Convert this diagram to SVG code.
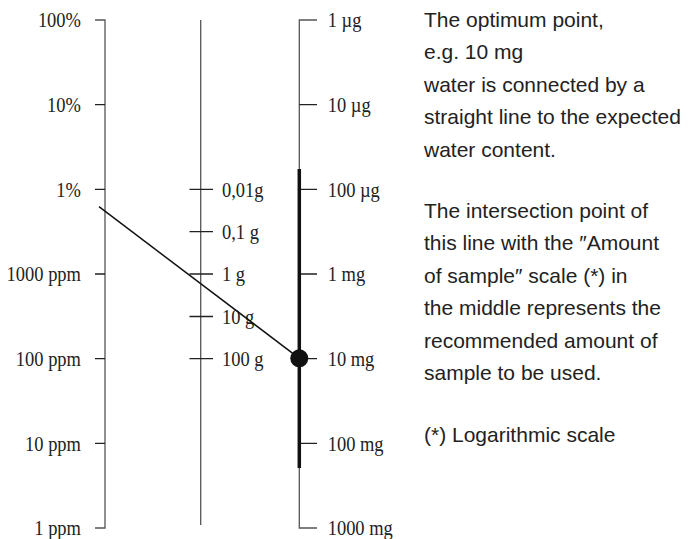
<svg xmlns="http://www.w3.org/2000/svg" width="689" height="539" viewBox="0 0 689 539">
<style>
.ax{fill:none;stroke:#555;stroke-width:1.3}
.tk{stroke:#222;stroke-width:1.3}
.sl{font-family:"Liberation Serif","Times New Roman",serif;font-size:22px;fill:#222}
.sl-end{text-anchor:end}
.tx{font-family:"Liberation Sans",Arial,sans-serif;font-size:21px;fill:#222}
</style>
<rect width="689" height="539" fill="#fff"/>
<g id="scale-water">
<path class="ax" d="M95,20 H105 V528 H95"/>
<path class="tk" d="M95,104.7 H105 M95,189.3 H105 M95,274 H105 M95,358.7 H105 M95,443.3 H105"/>
<g class="sl sl-end" transform="scale(0.84 1)">
<text x="96.4" y="27.5">100%</text>
<text x="96.4" y="112.2">10%</text>
<text x="96.4" y="196.8">1%</text>
<text x="96.4" y="281.5">1000 ppm</text>
<text x="96.4" y="366.2">100 ppm</text>
<text x="96.4" y="450.8">10 ppm</text>
<text x="96.4" y="535.5">1 ppm</text>
</g>
</g>
<g id="scale-sample">
<line class="ax" x1="200.7" y1="20" x2="200.7" y2="525"/>
<path class="tk" d="M189.5,189.3 H213 M189.5,231.7 H213 M189.5,274 H213 M189.5,316.5 H213 M189.5,358.7 H213"/>
<g class="sl" transform="scale(0.84 1)">
<text x="264.3" y="196.8">0,01g</text>
<text x="264.3" y="239.2">0,1 g</text>
<text x="264.3" y="281.5">1 g</text>
<text x="264.3" y="324">10 g</text>
<text x="264.3" y="366.2">100 g</text>
</g>
</g>
<g id="scale-titrant">
<path class="ax" d="M317,20 H299.3 V528 H317"/>
<path class="tk" d="M299.3,104.7 H317 M299.3,189.3 H317 M299.3,274 H317 M299.3,358.7 H317 M299.3,443.3 H317"/>
<line x1="299.3" y1="169" x2="299.3" y2="468" stroke="#111" stroke-width="3.5"/>
<g class="sl" transform="scale(0.84 1)">
<text x="390.1" y="27.5">1 µg</text>
<text x="390.1" y="112.2">10 µg</text>
<text x="390.1" y="196.8">100 µg</text>
<text x="390.1" y="281.5">1 mg</text>
<text x="390.1" y="366.2">10 mg</text>
<text x="390.1" y="450.8">100 mg</text>
<text x="390.1" y="535.5">1000 mg</text>
</g>
</g>
<g id="connectors">
<line x1="99" y1="206.7" x2="299.3" y2="358.3" stroke="#111" stroke-width="1.5"/>
<circle cx="299.3" cy="358.3" r="9" fill="#111"/>
</g>
<g id="note-1" class="tx">
<text x="424" y="27">The optimum point,</text>
<text x="424" y="59.4">e.g. 10 mg</text>
<text x="424" y="91.8">water is connected by a</text>
<text x="424" y="124.2">straight line to the expected</text>
<text x="424" y="156.6">water content.</text>
</g>
<g id="note-2" class="tx">
<text x="424" y="218">The intersection point of</text>
<text x="424" y="250.4">this line with the ″Amount</text>
<text x="424" y="282.8">of sample″ scale (*) in</text>
<text x="424" y="315.2">the middle represents the</text>
<text x="424" y="347.6">recommended amount of</text>
<text x="424" y="380">sample to be used.</text>
</g>
<g id="note-3" class="tx">
<text x="424" y="442">(*) Logarithmic scale</text>
</g>
</svg>
